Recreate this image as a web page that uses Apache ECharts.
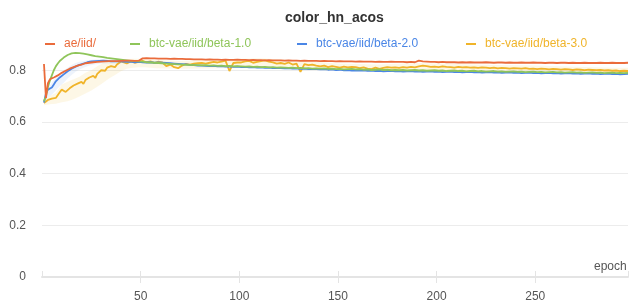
<!DOCTYPE html>
<html><head><meta charset="utf-8">
<script src="https://cdn.jsdelivr.net/npm/echarts@6/dist/echarts.min.js"></script>
<style>html,body{margin:0;padding:0;background:#fff}#c{width:630px;height:308px}</style>
</head><body><div id="c"></div>
<script>
const titleText = 'color_hn_acos';
const seriesNames = ['ae/iid/', 'btc-vae/iid/beta-1.0', 'btc-vae/iid/beta-2.0', 'btc-vae/iid/beta-3.0'];
const xTicks = [50, 100, 150, 200, 250];
const epochs = [1,2,3,4,5,6,7,8,9,10,11,12,13,14,15,16,17,18,19,20,21,22,23,24,25,26,27,28,29,30,31,32,33,34,35,36,37,38,39,40,
41,43,45,47,49,51,53,55,57,59,61,63,65,67,69,71,73,75,77,79,81,83,85,87,89,91,93,95,97,99,
101,103,105,107,109,111,113,115,117,119,121,123,125,127,129,131,133,135,137,139,141,143,145,147,149,151,153,155,157,159,
161,163,165,167,169,171,173,175,177,179,181,183,185,187,189,191,193,195,197,199,201,203,205,207,209,211,213,215,217,219,
221,223,225,227,229,231,233,235,237,239,241,243,245,247,249,251,253,255,257,259,261,263,265,267,269,271,273,275,277,279,
281,283,285,287,289,291,293,295,297];

const aeVals = [0.824,0.692,0.750,0.765,0.768,0.772,0.778,0.780,0.785,0.790,0.794,0.798,0.802,0.806,0.809,0.812,0.815,0.818,0.820,0.822,
0.825,0.827,0.828,0.829,0.830,0.831,0.832,0.832,0.833,0.833,0.834,0.834,0.834,0.835,0.835,0.835,0.836,0.835,0.836,0.836,
0.836,0.837,0.837,0.836,0.837,0.846,0.847,0.846,0.846,0.845,
0.845,0.845,0.844,0.845,0.844,0.844,0.843,0.843,0.842,0.842,
0.842,0.841,0.842,0.841,0.841,0.840,0.841,0.840,0.840,0.841,
0.840,0.840,0.839,0.840,0.839,0.839,0.838,0.839,0.838,0.838,
0.838,0.837,0.838,0.837,0.837,0.836,0.837,0.836,0.836,0.836,
0.835,0.836,0.835,0.835,0.834,0.835,0.834,0.834,0.834,0.833,
0.834,0.833,0.833,0.833,0.832,0.833,0.832,0.832,0.833,0.832,
0.832,0.832,0.831,0.832,0.831,0.837,0.834,0.833,0.832,0.832,
0.831,0.832,0.831,0.831,0.831,0.830,0.831,0.830,0.831,0.830,
0.830,0.830,0.831,0.830,0.829,0.830,0.830,0.829,0.830,0.829,
0.829,0.830,0.829,0.829,0.830,0.829,0.829,0.828,0.829,0.829,
0.828,0.829,0.829,0.828,0.829,0.828,0.828,0.829,0.828,0.828,
0.828,0.829,0.828,0.828,0.829,0.828,0.828,0.828,0.829];

const beta1Vals = [0.680,0.700,0.735,0.760,0.780,0.800,0.815,0.826,0.836,0.843,0.849,0.855,0.859,0.862,0.865,0.866,0.867,0.866,0.866,0.864,
0.864,0.862,0.861,0.859,0.858,0.857,0.855,0.854,0.853,0.852,0.851,0.850,0.848,0.847,0.846,0.845,0.844,0.843,0.842,0.841,
0.840,0.838,0.836,0.835,0.834,0.833,0.831,0.830,0.829,0.828,
0.827,0.826,0.825,0.824,0.823,0.822,0.821,0.821,0.820,0.820,
0.819,0.820,0.818,0.819,0.817,0.818,0.816,0.817,0.815,0.816,
0.815,0.814,0.815,0.813,0.814,0.812,0.813,0.811,0.812,0.810,
0.811,0.810,0.809,0.810,0.808,0.809,0.807,0.808,0.806,0.807,
0.806,0.807,0.805,0.806,0.804,0.805,0.803,0.804,0.805,0.803,
0.804,0.802,0.803,0.801,0.802,0.803,0.801,0.802,0.800,0.801,
0.800,0.801,0.799,0.800,0.801,0.799,0.800,0.798,0.799,0.800,
0.798,0.799,0.797,0.798,0.799,0.797,0.798,0.796,0.797,0.798,
0.796,0.797,0.795,0.796,0.797,0.795,0.796,0.794,0.795,0.796,
0.794,0.795,0.793,0.794,0.795,0.793,0.794,0.792,0.793,0.794,
0.792,0.793,0.791,0.792,0.793,0.791,0.792,0.790,0.791,0.792,
0.790,0.791,0.789,0.790,0.791,0.789,0.790,0.789,0.790];

const beta2Vals = [0.675,0.710,0.725,0.730,0.733,0.745,0.757,0.762,0.772,0.779,0.784,0.790,0.796,0.801,0.806,0.810,0.814,0.818,0.821,0.824,
0.826,0.829,0.831,0.833,0.834,0.836,0.835,0.837,0.836,0.838,0.837,0.836,0.836,0.835,0.834,0.835,0.834,0.833,0.834,0.833,
0.833,0.832,0.833,0.831,0.832,0.831,0.830,0.831,0.829,0.830,
0.829,0.828,0.827,0.826,0.825,0.824,0.823,0.821,0.820,0.818,
0.818,0.817,0.816,0.817,0.815,0.816,0.814,0.815,0.813,0.814,
0.812,0.813,0.811,0.812,0.810,0.811,0.809,0.810,0.808,0.809,
0.808,0.807,0.808,0.806,0.807,0.805,0.806,0.804,0.805,0.804,
0.803,0.804,0.802,0.803,0.801,0.802,0.800,0.801,0.799,0.800,
0.799,0.800,0.798,0.799,0.797,0.798,0.796,0.797,0.798,0.796,
0.797,0.795,0.796,0.797,0.795,0.796,0.794,0.795,0.796,0.794,
0.795,0.793,0.794,0.795,0.793,0.794,0.792,0.793,0.794,0.792,
0.793,0.791,0.792,0.793,0.791,0.792,0.790,0.791,0.792,0.790,
0.791,0.789,0.790,0.791,0.789,0.790,0.788,0.789,0.790,0.788,
0.789,0.787,0.788,0.789,0.787,0.788,0.786,0.787,0.788,0.786,
0.787,0.785,0.786,0.787,0.785,0.786,0.784,0.785,0.786];

const beta3Vals = [0.673,0.680,0.685,0.688,0.690,0.692,0.693,0.700,0.715,0.725,0.720,0.716,0.722,0.730,0.737,0.741,0.745,0.748,0.750,0.755,
0.747,0.762,0.758,0.772,0.765,0.778,0.770,0.786,0.790,0.800,0.806,0.798,0.810,0.805,0.816,0.820,0.812,0.822,0.828,0.834,
0.833,0.826,0.834,0.829,0.832,0.836,0.831,0.834,0.828,0.833,
0.830,0.816,0.822,0.812,0.808,0.818,0.825,0.822,0.826,0.827,
0.828,0.826,0.829,0.832,0.830,0.833,0.837,0.797,0.828,0.830,
0.830,0.834,0.836,0.829,0.832,0.835,0.838,0.833,0.830,0.826,
0.828,0.825,0.830,0.822,0.826,0.794,0.824,0.820,0.822,0.818,
0.815,0.818,0.812,0.816,0.813,0.810,0.814,0.811,0.813,0.812,
0.808,0.811,0.806,0.804,0.810,0.805,0.809,0.812,0.810,0.811,
0.809,0.812,0.810,0.813,0.811,0.815,0.818,0.816,0.813,0.814,
0.812,0.815,0.813,0.812,0.810,0.813,0.811,0.812,0.810,0.811,
0.809,0.811,0.810,0.808,0.810,0.807,0.809,0.808,0.806,0.808,
0.807,0.806,0.808,0.805,0.806,0.804,0.806,0.805,0.803,0.805,
0.804,0.802,0.804,0.803,0.801,0.803,0.802,0.800,0.802,0.801,
0.800,0.801,0.799,0.800,0.798,0.799,0.797,0.798,0.797];

// faint min/max bands around the runs (read from the shading)
const beta3BandEpochs = [1,4,7,10,13,16,19,22,25,28,31,34,37,40,43,46,49,52,55,58,70,90,110,130,150,170,190,210,230,250,270,290,297];
const beta3BandLow =  [0.665,0.668,0.670,0.676,0.680,0.688,0.698,0.710,0.722,0.736,0.752,0.768,0.782,0.796,0.806,0.810,0.812,0.812,0.810,0.808,0.806,0.808,0.810,0.804,0.798,0.796,0.800,0.798,0.794,0.792,0.788,0.785,0.784];
const beta3BandHigh = [0.680,0.700,0.712,0.745,0.755,0.765,0.775,0.790,0.800,0.815,0.828,0.835,0.840,0.842,0.843,0.844,0.844,0.843,0.842,0.840,0.836,0.842,0.846,0.838,0.826,0.822,0.828,0.824,0.820,0.818,0.814,0.810,0.810];
const beta2BandEpochs = [1,3,5,7,9,11,13,15,17,19,21,24,27,30,35,40];
const beta2BandLow =  [0.670,0.695,0.705,0.722,0.738,0.752,0.768,0.782,0.794,0.803,0.810,0.818,0.823,0.826,0.826,0.826];
const beta2BandHigh = [0.680,0.730,0.752,0.772,0.788,0.800,0.810,0.820,0.828,0.833,0.836,0.840,0.842,0.843,0.842,0.840];

const colors = ['#ea6b3b', '#8fc55a', '#4a86e6', '#f0b42a'];
const allVals = [aeVals, beta1Vals, beta2Vals, beta3Vals];
const legendLeft = [40, 125, 292, 461];

const chart = echarts.init(document.getElementById('c'), null, {renderer: 'canvas'});
const font = 'Liberation Sans, Arial, sans-serif';
const baseX = {
  type: 'value', min: 0, max: 297, interval: 50,
  axisLine: {show: true, lineStyle: {color: '#e4e4e4', width: 2}},
  splitLine: {show: false}
};

function bandSeries(id, ep, lo, hi, color) {
  return {
    name: id, type: 'custom', silent: true, z: 1,
    data: ep.map((e, k) => [e, lo[k], hi[k]]),
    encode: {x: 0, y: [1, 2]},
    renderItem: function (params, api) {
      if (params.dataIndex !== 0) return null;
      const pts = [];
      for (let k = 0; k < ep.length; k++) pts.push(api.coord([ep[k], hi[k]]));
      for (let k = ep.length - 1; k >= 0; k--) pts.push(api.coord([ep[k], lo[k]]));
      return {type: 'polygon', shape: {points: pts}, style: {fill: color}};
    }
  };
}

const lineSeries = seriesNames.map((n, i) => ({
  name: n, type: 'line', xAxisIndex: 0, showSymbol: false, symbol: 'none',
  lineStyle: {color: colors[i], width: 1.8}, itemStyle: {color: colors[i]},
  z: 10 - i,
  data: epochs.map((e, k) => [e, allVals[i][k]])
}));

chart.setOption({
  animation: false,
  title: {text: titleText, left: 280, top: 6, textStyle: {fontFamily: font, fontSize: 14, fontWeight: 'bold', color: '#333'}},
  legend: seriesNames.map((n, i) => ({
    data: [n], left: legendLeft[i], top: 33, icon: 'rect', itemWidth: 10, itemHeight: 2,
    textStyle: {fontFamily: font, fontSize: 12, color: colors[i], padding: [0, 0, 0, 4]}
  })),
  grid: {left: 42, right: 2, top: 44.4, bottom: 31, containLabel: false},
  xAxis: [
    Object.assign({}, baseX, {
      name: 'epoch', nameLocation: 'end', nameGap: -34,
      nameTextStyle: {fontFamily: font, fontSize: 12, color: '#555', align: 'left', verticalAlign: 'bottom', padding: [0, 0, 4, 0]},
      axisTick: {show: true, length: 6, lineStyle: {color: '#e4e4e4'}},
      axisLabel: {fontFamily: font, fontSize: 12, color: '#555', margin: 14, showMinLabel: false, showMaxLabel: false,
        formatter: v => xTicks.includes(v) ? String(v) : ''}
    }),
    Object.assign({}, baseX, {
      position: 'bottom',
      axisLine: {show: false},
      axisTick: {show: true, inside: true, length: 6, lineStyle: {color: '#e4e4e4'}},
      axisLabel: {show: false}
    })
  ],
  yAxis: {
    type: 'value', min: 0, max: 0.9, interval: 0.2,
    axisLine: {show: false}, axisTick: {show: false},
    splitLine: {show: true, showMaxLine: false, lineStyle: {color: '#ececec', width: 1}},
    axisLabel: {fontFamily: font, fontSize: 12, color: '#555', margin: 16, showMaxLabel: false,
      formatter: v => (Math.abs(v - 0.9) < 1e-9 ? '' : String(Math.round(v * 10) / 10))}
  },
  series: [
    bandSeries('b3band', beta3BandEpochs, beta3BandLow, beta3BandHigh, 'rgba(240,190,60,0.13)'),
    bandSeries('b2band', beta2BandEpochs, beta2BandLow, beta2BandHigh, 'rgba(74,134,230,0.10)')
  ].concat(lineSeries)
});
</script></body></html>
